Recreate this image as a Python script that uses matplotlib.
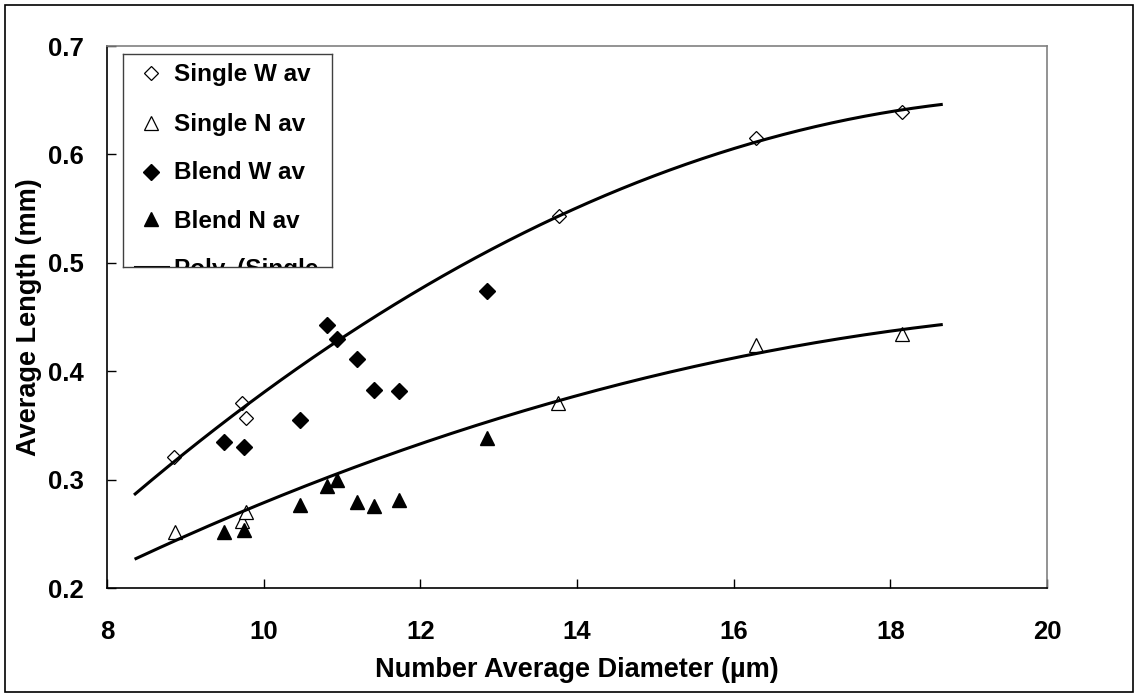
import numpy as np
import matplotlib
matplotlib.use("Agg")
import matplotlib.pyplot as plt
from matplotlib.patches import Rectangle

plt.rcParams['font.family'] = ['Liberation Sans', 'DejaVu Sans']
plt.rcParams['font.weight'] = 'bold'

# --- data ---
single_w_x = [8.86, 9.72, 9.77, 13.77, 16.29, 18.15]
single_w_y = [0.321, 0.371, 0.357, 0.543, 0.615, 0.639]
single_n_x = [8.87, 9.72, 9.77, 13.76, 16.28, 18.15]
single_n_y = [0.252, 0.262, 0.270, 0.371, 0.424, 0.434]

blend_x = [9.49, 9.745, 10.47, 10.81, 10.93, 11.19, 11.41, 11.73, 12.85]
blend_w_y = [0.3345, 0.330, 0.355, 0.4425, 0.4294, 0.4114, 0.3828, 0.3818, 0.4736]
blend_n_y = [0.2515, 0.2537, 0.2766, 0.2938, 0.2997, 0.2797, 0.276, 0.2815, 0.3385]

legend_labels = ["Single W av", "Single N av", "Blend W av", "Blend N av",
                 "Poly. (Single\nW av)"]

W, H = 1138, 696
fig = plt.figure(figsize=(W / 100, H / 100), dpi=100)

# axes placed in pixel terms of the reference
ax_l, ax_r, ax_t, ax_b = 107, 1047, 46, 588
ax = fig.add_axes([ax_l / W, 1 - ax_b / H, (ax_r - ax_l) / W, (ax_b - ax_t) / H])

# markers
ax.plot(single_w_x, single_w_y, ls='none', marker='D', ms=7.6, mfc='white',
        mec='black', mew=0.9, zorder=3)
ax.plot(single_n_x, single_n_y, ls='none', marker='^', ms=9.6, mfc='white',
        mec='black', mew=0.9, zorder=3)
ax.plot(blend_x, blend_w_y, ls='none', marker='D', ms=7.8, mfc='black',
        mec='black', zorder=3)
ax.plot(blend_x, blend_n_y, ls='none', marker='^', ms=9.6, mfc='black',
        mec='black', zorder=3)


# 2nd order polynomial trendlines, extended 0.5 each side (Excel style)
def poly_trend(x, y):
    c = np.polyfit(x, y, 2)
    xs = np.linspace(min(x) - 0.5, max(x) + 0.5, 200)
    return xs, np.polyval(c, xs)


for xx, yy in [(single_w_x, single_w_y), (single_n_x, single_n_y)]:
    xs, ys = poly_trend(xx, yy)
    ax.plot(xs, ys, color='black', lw=2.2, zorder=4)

ax.set_xlim(8, 20)
ax.set_ylim(0.2, 0.7)
ax.set_xticks(np.arange(8, 21, 2))
ax.set_yticks(np.arange(0.2, 0.71, 0.1))
ax.set_yticklabels([f"{v:.1f}" for v in np.arange(0.2, 0.71, 0.1)])
ax.tick_params(axis='both', direction='in', length=6.5, width=1,
               labelsize=18.5, color='black')
ax.tick_params(axis='x', pad=23, top=False)
ax.tick_params(axis='y', pad=17, right=False)
for lab in ax.get_xticklabels() + ax.get_yticklabels():
    lab.set_fontweight('bold')

ax.spines['left'].set_color('black')
ax.spines['bottom'].set_color('black')
ax.spines['top'].set_color('#808080')
ax.spines['right'].set_color('#808080')
for s in ax.spines.values():
    s.set_linewidth(1.2)

ax.set_xlabel("Number Average Diameter (\u00b5m)", fontsize=19.5, fontweight='bold')
ax.set_ylabel("Average Length (mm)", fontsize=19.5, fontweight='bold')
ax.xaxis.set_label_coords(0.5, -0.127)
ax.yaxis.set_label_coords(-0.069, 0.5)

# legend box (clipped like the original)
lg_l, lg_r, lg_t, lg_b = 123, 332, 54, 267
lax = fig.add_axes([lg_l / W, 1 - lg_b / H, (lg_r - lg_l) / W, (lg_b - lg_t) / H])
lax.set_xlim(0, lg_r - lg_l)
lax.set_ylim(lg_b - lg_t, 0)
lax.set_xticks([])
lax.set_yticks([])
for s in lax.spines.values():
    s.set_color('#404040')
    s.set_linewidth(1)

entry_styles = [
    dict(marker='D', ms=7.6, mfc='white', mec='black', mew=0.9),
    dict(marker='^', ms=9.6, mfc='white', mec='black', mew=0.9),
    dict(marker='D', ms=7.8, mfc='black', mec='black'),
    dict(marker='^', ms=9.6, mfc='black', mec='black'),
]
marker_y = [19.3, 68.7, 117.7, 165.3]
base_y = [27.5, 76.5, 125, 173.5, 222]
for i, lab in enumerate(legend_labels):
    if i < 4:
        lax.plot([28], [marker_y[i]], ls='none', **entry_styles[i])
    else:
        lax.plot([12, 45], [212.7, 212.7], color='black', lw=2.2)
    first, *rest = lab.split("\n")
    lax.text(51, base_y[i], first, fontsize=17.5, fontweight='bold',
             va='baseline', ha='left', clip_on=True)

# outer border of the chart area
fig.add_artist(Rectangle((5 / W, 4 / H), 1128 / W, 687 / H, fill=False,
                         edgecolor='black', lw=1.2, transform=fig.transFigure))

fig.savefig("out.png", dpi=100)
